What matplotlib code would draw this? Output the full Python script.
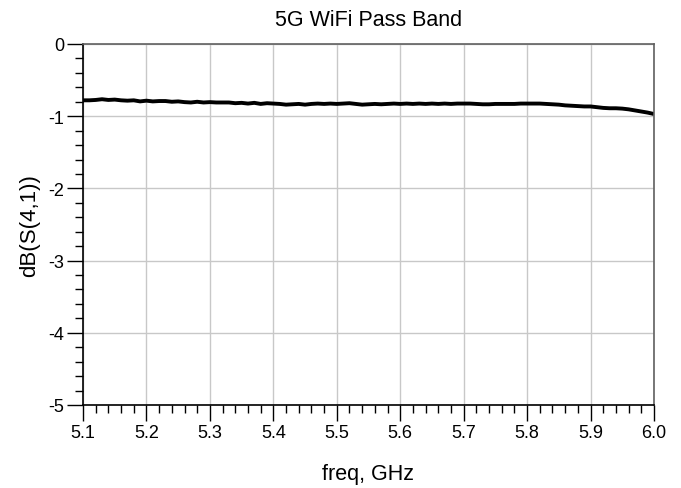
import numpy as np
import matplotlib
matplotlib.use("Agg")
import matplotlib.pyplot as plt
from matplotlib.ticker import MultipleLocator, FuncFormatter

plt.rcParams['font.family'] = ['Liberation Sans', 'DejaVu Sans']

# frequency grid (GHz) and measured insertion loss dB(S(4,1))
freq = np.round(np.linspace(5.10, 6.00, 91), 2)
s41_db = [
    -0.780, -0.780, -0.775, -0.765, -0.775, -0.770, -0.780, -0.785, -0.780, -0.795,
    -0.785, -0.795, -0.790, -0.790, -0.800, -0.795, -0.805, -0.810, -0.800, -0.810,
    -0.805, -0.810, -0.810, -0.810, -0.820, -0.815, -0.825, -0.815, -0.830, -0.820,
    -0.825, -0.830, -0.840, -0.835, -0.830, -0.840, -0.830, -0.825, -0.830, -0.825,
    -0.830, -0.825, -0.820, -0.830, -0.840, -0.835, -0.830, -0.835, -0.830, -0.825,
    -0.830, -0.825, -0.830, -0.825, -0.830, -0.825, -0.830, -0.825, -0.830, -0.825,
    -0.825, -0.825, -0.830, -0.835, -0.835, -0.830, -0.830, -0.830, -0.830, -0.825,
    -0.825, -0.825, -0.825, -0.830, -0.835, -0.840, -0.850, -0.855, -0.860, -0.865,
    -0.865, -0.875, -0.885, -0.890, -0.890, -0.895, -0.905, -0.920, -0.935, -0.950,
    -0.970,
]

fig = plt.figure(figsize=(6.81, 4.89), dpi=100)
ax = fig.add_axes([83 / 681, 83 / 489, 571 / 681, 361 / 489])

ax.plot(freq, s41_db, color="black", linewidth=2.8, solid_capstyle="butt")

ax.set_xlim(5.1, 6.0)
ax.set_ylim(-5, 0)
ax.xaxis.set_major_locator(MultipleLocator(0.1))
ax.xaxis.set_minor_locator(MultipleLocator(0.02))
ax.yaxis.set_major_locator(MultipleLocator(1))
ax.yaxis.set_minor_locator(MultipleLocator(0.2))
ax.xaxis.set_major_formatter(FuncFormatter(lambda v, p: f"{v:.1f}"))
ax.yaxis.set_major_formatter(FuncFormatter(lambda v, p: f"{v:.0f}".replace("\u2212", "-")))

ax.tick_params(which="major", direction="out", length=11.5, width=1.0, labelsize=13, pad=2)
ax.tick_params(which="minor", direction="out", length=5.5, width=1.0)
ax.grid(True, which="major", color="#c8c8c8", linewidth=1.0)
ax.set_axisbelow(True)

for side in ("left", "bottom"):
    ax.spines[side].set_color("black")
    ax.spines[side].set_linewidth(1.2)
for side in ("top", "right"):
    ax.spines[side].set_color("#606060")
    ax.spines[side].set_linewidth(1.2)

ax.set_title("5G WiFi Pass Band", fontsize=15.5, pad=14)
ax.set_xlabel("freq, GHz", fontsize=15.5, labelpad=16)
ax.set_ylabel("dB(S(4,1))", fontsize=16, labelpad=6)

plt.savefig("out.png", dpi=100)
